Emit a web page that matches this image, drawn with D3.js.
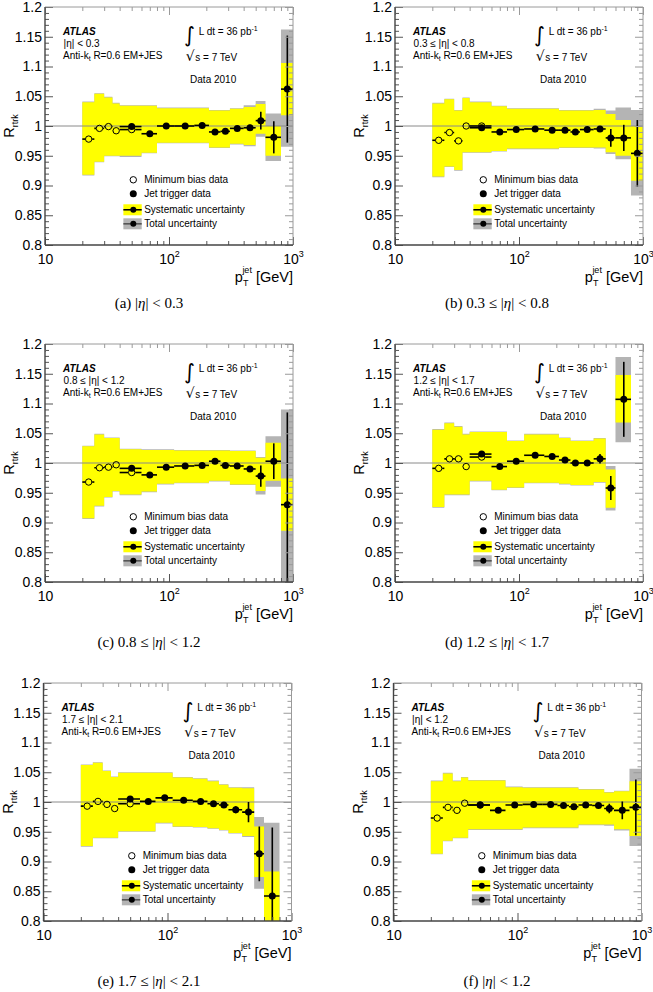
<!DOCTYPE html>
<html><head><meta charset="utf-8">
<script src="https://cdn.jsdelivr.net/npm/d3@7"></script>
<style>body{margin:0;background:#fff;} svg{display:block;}</style>
</head><body>
<svg id="c" width="653" height="992"></svg>
<script>
// ---------- shared data ----------
const binEdges = [20,25,30,35,40,60,80,110,160,210,260,310,400,500,600,800,1000];
const mbPt  = [22.5,27.5,32.5,37.5,50];
const jetPt = [50,70,95,135,185,235,285,355,450,550,700,900];
const yMajor = [0.8,0.85,0.9,0.95,1.0,1.05,1.1,1.15,1.2];
const yMajorLabels = ["0.8","0.85","0.9","0.95","1","1.05","1.1","1.15","1.2"];
const xMajor = [10,100,1000];
const xMajorBase = ["10","10","10"];
const xMajorExp  = ["","2","3"];
const legendLabels = ["Minimum bias data","Jet trigger data","Systematic uncertainty","Total uncertainty"];
const etaLabels = ["|η| < 0.3","0.3 ≤ |η| < 0.8","0.8 ≤ |η| < 1.2","1.2 ≤ |η| < 1.7","1.7 ≤ |η| < 2.1","|η| < 1.2"];
const captionLetters = ["(a)","(b)","(c)","(d)","(e)","(f)"];
const captionRanges = [["","0.3"],["0.3 ≤ ","0.8"],["0.8 ≤ ","1.2"],["1.2 ≤ ","1.7"],["1.7 ≤ ","2.1"],["","1.2"]];

// ---------- panel (a) |eta|<0.3 ----------
const mbA     = [0.978,0.996,0.999,0.992,0.994];
const mbErrA  = [0.003,0.003,0.005,0.005,0.005];
const jetA    = [0.999,0.987,1.000,1.000,1.001,0.990,0.991,0.996,0.997,1.009,0.981,1.062];
const jetErrA = [0.002,0.002,0.002,0.002,0.002,0.002,0.003,0.003,0.005,0.015,0.027,0.090];
const systHiA = [1.040,1.054,1.048,1.038,1.034,1.034,1.030,1.030,1.030,1.026,1.026,1.029,1.032,1.037,1.000,1.106];
const systLoA = [0.918,0.940,0.950,0.950,0.950,0.955,0.972,0.972,0.972,0.964,0.964,0.970,0.968,0.987,0.950,1.018];
const totHiA  = [1.041,1.055,1.049,1.039,1.035,1.035,1.031,1.031,1.031,1.027,1.027,1.030,1.035,1.042,1.021,1.162];
const totLoA  = [0.917,0.939,0.949,0.949,0.948,0.954,0.971,0.971,0.971,0.963,0.963,0.969,0.966,0.982,0.941,0.965];

// ---------- panel (b) 0.3<=|eta|<0.8 ----------
const mbB     = [0.976,0.989,0.975,1.000,1.000];
const mbErrB  = [0.003,0.003,0.003,0.004,0.004];
const jetB    = [0.997,0.990,0.994,0.995,0.993,0.993,0.990,0.994,0.995,0.980,0.980,0.954];
const jetErrB = [0.003,0.002,0.002,0.002,0.002,0.002,0.002,0.002,0.003,0.015,0.022,0.056];
const systHiB = [1.038,1.045,1.026,1.047,1.040,1.033,1.029,1.029,1.029,1.026,1.026,1.026,1.027,1.020,1.010,1.000];
const systLoB = [0.915,0.932,0.926,0.956,0.956,0.958,0.962,0.962,0.962,0.964,0.964,0.964,0.964,0.956,0.950,0.908];
const totHiB  = [1.039,1.046,1.027,1.048,1.041,1.034,1.030,1.030,1.030,1.027,1.027,1.027,1.029,1.026,1.031,1.027];
const totLoB  = [0.914,0.931,0.925,0.955,0.955,0.957,0.961,0.961,0.961,0.963,0.963,0.963,0.962,0.953,0.944,0.883];

// ---------- panel (c) 0.8<=|eta|<1.2 ----------
const mbC     = [0.968,0.992,0.993,0.997,0.984];
const mbErrC  = [0.003,0.003,0.003,0.004,0.005];
const jetC    = [0.991,0.980,0.993,0.995,0.996,1.003,0.996,0.995,0.990,0.978,1.003,0.930];
const jetErrC = [0.003,0.002,0.002,0.002,0.002,0.002,0.002,0.002,0.005,0.018,0.030,0.155];
const systHiC = [1.028,1.048,1.042,1.042,1.023,1.022,1.022,1.021,1.021,1.021,1.021,1.020,1.020,1.009,1.034,0.974];
const systLoC = [0.907,0.928,0.943,0.953,0.947,0.952,0.965,0.967,0.967,0.970,0.970,0.964,0.964,0.953,0.970,0.886];
const totHiC  = [1.029,1.049,1.043,1.043,1.024,1.023,1.023,1.022,1.022,1.022,1.022,1.021,1.021,1.010,1.045,1.090];
const totLoC  = [0.906,0.927,0.942,0.952,0.946,0.951,0.964,0.966,0.966,0.969,0.969,0.963,0.963,0.947,0.960,0.770];

// ---------- panel (d) 1.2<=|eta|<1.7 ----------
const mbD     = [0.991,1.007,1.007,0.994,1.010];
const mbErrD  = [0.003,0.003,0.003,0.005,0.004];
const jetD    = [1.015,0.994,1.003,1.013,1.011,1.005,1.000,1.000,1.007,0.958,1.107,null];
const jetErrD = [0.003,0.002,0.002,0.002,0.002,0.002,0.002,0.002,0.008,0.020,0.063,null];
const systHiD = [1.056,1.067,1.061,1.048,1.052,1.052,1.037,1.048,1.048,1.042,1.037,1.037,1.041,0.989,1.148,null];
const systLoD = [0.926,0.947,0.947,0.947,0.970,0.955,0.959,0.967,0.967,0.965,0.963,0.963,0.968,0.925,1.068,null];
const totHiD  = [1.057,1.068,1.062,1.049,1.053,1.053,1.038,1.049,1.049,1.043,1.038,1.038,1.042,0.995,1.178,null];
const totLoD  = [0.925,0.946,0.946,0.946,0.969,0.954,0.958,0.966,0.966,0.964,0.962,0.962,0.967,0.920,1.035,null];

// ---------- panel (e) 1.7<=|eta|<2.1 ----------
const mbE     = [0.993,1.001,0.996,0.989,0.997];
const mbErrE  = [0.003,0.003,0.004,0.006,0.005];
const jetE    = [1.005,1.001,1.007,1.003,1.001,0.997,0.995,0.987,0.983,0.913,0.842,null];
const jetErrE = [0.003,0.002,0.003,0.002,0.002,0.002,0.003,0.006,0.017,0.046,0.115,null];
const systHiE = [1.062,1.066,1.052,1.042,1.049,1.049,1.049,1.041,1.039,1.035,1.029,1.024,1.023,0.959,0.883,null];
const systLoE = [0.926,0.940,0.940,0.940,0.951,0.951,0.965,0.959,0.958,0.956,0.953,0.948,0.943,0.874,0.700,null];
const totHiE  = [1.063,1.067,1.053,1.043,1.050,1.050,1.050,1.042,1.040,1.036,1.030,1.025,1.025,0.975,0.965,null];
const totLoE  = [0.925,0.939,0.939,0.939,0.950,0.950,0.964,0.958,0.957,0.955,0.952,0.947,0.941,0.854,0.700,null];

// ---------- panel (f) |eta|<1.2 ----------
const mbF     = [0.973,0.991,0.986,0.998,0.995];
const mbErrF  = [0.003,0.003,0.003,0.003,0.003];
const jetF    = [0.995,0.986,0.995,0.996,0.996,0.994,0.992,0.995,0.994,0.989,0.986,0.991];
const jetErrF = [0.002,0.002,0.002,0.002,0.002,0.002,0.002,0.002,0.003,0.008,0.015,0.047];
const systHiF = [1.035,1.048,1.035,1.041,1.036,1.036,1.025,1.024,1.024,1.024,1.024,1.021,1.021,1.016,1.018,1.035];
const systLoF = [0.913,0.935,0.940,0.940,0.954,0.954,0.954,0.957,0.957,0.957,0.957,0.962,0.962,0.962,0.954,0.943];
const totHiF  = [1.036,1.049,1.036,1.042,1.037,1.037,1.026,1.025,1.025,1.025,1.025,1.022,1.022,1.017,1.019,1.056];
const totLoF  = [0.912,0.934,0.939,0.939,0.953,0.953,0.953,0.956,0.956,0.956,0.956,0.961,0.961,0.960,0.952,0.926];

const panels = [
  {mb:mbA,mbErr:mbErrA,jet:jetA,jetErr:jetErrA,sHi:systHiA,sLo:systLoA,tHi:totHiA,tLo:totLoA},
  {mb:mbB,mbErr:mbErrB,jet:jetB,jetErr:jetErrB,sHi:systHiB,sLo:systLoB,tHi:totHiB,tLo:totLoB},
  {mb:mbC,mbErr:mbErrC,jet:jetC,jetErr:jetErrC,sHi:systHiC,sLo:systLoC,tHi:totHiC,tLo:totLoC},
  {mb:mbD,mbErr:mbErrD,jet:jetD,jetErr:jetErrD,sHi:systHiD,sLo:systLoD,tHi:totHiD,tLo:totLoD},
  {mb:mbE,mbErr:mbErrE,jet:jetE,jetErr:jetErrE,sHi:systHiE,sLo:systLoE,tHi:totHiE,tLo:totLoE},
  {mb:mbF,mbErr:mbErrF,jet:jetF,jetErr:jetErrF,sHi:systHiF,sLo:systLoF,tHi:totHiF,tLo:totLoF}
];

// ---------- layout ----------
const W = 248, H = 238;
const layout = [
  {left:45,top:7},{left:395,top:7},
  {left:45,top:344},{left:395,top:344},
  {left:43.5,top:683},{left:393.5,top:683}
];
const captionPos = [{x:149,y:308},{x:497,y:308},{x:149,y:647},{x:497,y:647},{x:149,y:986},{x:497,y:986}];
const SANS = "'Liberation Sans', Arial, Helvetica, sans-serif";
const SERIF = "'Liberation Serif', 'Times New Roman', serif";
const YELLOW = "#ffff00", GREY = "#b4b4b4";

const svg = d3.select('#c');

function minorLog() {
  const out = [];
  [10,100].forEach(d => { for (let k=2;k<=9;k++) out.push(d*k); });
  return out;
}
const yMinor = d3.range(80,121).map(v=>v/100).filter(v => Math.round(v*100)%5 !== 0);

function bandPoints(lo, hi) {
  const pts = [];
  for (let i=0;i<binEdges.length-1;i++) {
    if (lo[i]==null) { pts.push({x:binEdges[i],lo:null,hi:null}); continue; }
    pts.push({x:binEdges[i],lo:lo[i],hi:hi[i]});
    pts.push({x:binEdges[i+1],lo:lo[i],hi:hi[i]});
  }
  return pts;
}

function errorBar(g, x, y, xc, xl, xr, v, e, r) {
  const cx = x(xc), cy = y(v);
  const segs = [];
  if (x(xl) < cx - r) segs.push([x(xl),cy,cx-r,cy]);
  if (x(xr) > cx + r) segs.push([cx+r,cy,x(xr),cy]);
  if (e != null) {
    if (y(v+e) < cy - r) segs.push([cx,y(v+e),cx,cy-r]);
    if (y(v-e) > cy + r) segs.push([cx,cy+r,cx,y(v-e)]);
  }
  segs.forEach(s => g.append('line').attr('x1',s[0]).attr('y1',s[1]).attr('x2',s[2]).attr('y2',s[3])
    .attr('stroke','#000').attr('stroke-width',1.6));
}

panels.forEach((p, idx) => {
  const L = layout[idx];
  const g = svg.append('g').attr('transform',`translate(${L.left},${L.top})`);
  const x = d3.scaleLog().domain([10,1000]).range([0,W]);
  const y = d3.scaleLinear().domain([0.8,1.2]).range([H,0]);
  const clipId = 'clip'+idx;
  svg.append('clipPath').attr('id',clipId).append('rect').attr('width',W).attr('height',H);
  const plot = g.append('g').attr('clip-path',`url(#${clipId})`);

  const area = d3.area().defined(d=>d.lo!=null).x(d=>x(d.x)).y0(d=>y(d.lo)).y1(d=>y(d.hi));
  plot.append('path').attr('d', area(bandPoints(p.tLo,p.tHi))).attr('fill',GREY);
  plot.append('path').attr('d', area(bandPoints(p.sLo,p.sHi))).attr('fill',YELLOW);

  plot.append('line').attr('x1',0).attr('x2',W).attr('y1',y(1)).attr('y2',y(1))
    .attr('stroke','#8a8a8a').attr('stroke-width',1);

  const R = 3.5;
  p.mb.forEach((v,i) => {
    errorBar(plot, x, y, mbPt[i], binEdges[i], binEdges[i+1], v, p.mbErr[i], R);
  });
  p.mb.forEach((v,i) => {
    plot.append('circle').attr('cx',x(mbPt[i])).attr('cy',y(v)).attr('r',R-0.3)
      .attr('fill','none').attr('stroke','#000').attr('stroke-width',1);
  });
  p.jet.forEach((v,i) => {
    if (v==null) return;
    errorBar(plot, x, y, jetPt[i], binEdges[i+4], binEdges[i+5], v, p.jetErr[i], 0);
    plot.append('circle').attr('cx',x(jetPt[i])).attr('cy',y(v)).attr('r',R).attr('fill','#000');
  });

  // ---- axes (ticks inside) ----
  const axCol = '#555', frCol = '#9a9a9a';
  const styleAxis = sel => { sel.select('.domain').remove(); sel.selectAll('line').attr('stroke',axCol); };
  const styleFrame = sel => { sel.select('.domain').remove(); sel.selectAll('line').attr('stroke',frCol); sel.selectAll('text').remove(); };

  const yl = g.append('g').call(d3.axisLeft(y).tickValues(yMajor).tickSize(-8).tickPadding(3)
      .tickFormat((d,i)=>yMajorLabels[i]));
  styleAxis(yl);
  yl.selectAll('text').attr('font-family',SANS).attr('font-size',14).attr('fill','#000');
  const ylm = g.append('g').call(d3.axisLeft(y).tickValues(yMinor).tickSize(-4).tickFormat(''));
  styleAxis(ylm);

  const yr = g.append('g').attr('transform',`translate(${W},0)`).call(d3.axisRight(y).tickValues(yMajor).tickSize(-8));
  styleFrame(yr);
  const yrm = g.append('g').attr('transform',`translate(${W},0)`).call(d3.axisRight(y).tickValues(yMinor).tickSize(-4));
  styleFrame(yrm);

  const xb = g.append('g').attr('transform',`translate(0,${H})`)
    .call(d3.axisBottom(x).tickValues(xMajor).tickSize(-8).tickPadding(0).tickFormat(()=>''));
  styleAxis(xb);
  xb.selectAll('.tick').each(function(d,i){
    const t = d3.select(this).append('text').attr('y',19).attr('text-anchor','middle')
      .attr('font-family',SANS).attr('font-size',14).attr('fill','#000');
    t.append('tspan').text(xMajorBase[i]);
    if (xMajorExp[i]) t.append('tspan').attr('dy',-7).attr('font-size',9).text(xMajorExp[i]);
  });
  const xbm = g.append('g').attr('transform',`translate(0,${H})`)
    .call(d3.axisBottom(x).tickValues(minorLog()).tickSize(-4).tickFormat(''));
  styleAxis(xbm);

  const xt = g.append('g').call(d3.axisTop(x).tickValues(xMajor).tickSize(-8));
  styleFrame(xt);
  const xtm = g.append('g').call(d3.axisTop(x).tickValues(minorLog()).tickSize(-4));
  styleFrame(xtm);

  g.append('line').attr('x1',W).attr('x2',W).attr('y1',0).attr('y2',H).attr('stroke',frCol).attr('stroke-width',1);
  g.append('line').attr('x1',0).attr('x2',W).attr('y1',0).attr('y2',0).attr('stroke',frCol).attr('stroke-width',1);
  g.append('line').attr('x1',0).attr('x2',0).attr('y1',0).attr('y2',H).attr('stroke','#444').attr('stroke-width',1.4);
  g.append('line').attr('x1',0).attr('x2',W).attr('y1',H).attr('y2',H).attr('stroke','#444').attr('stroke-width',1.4);

  // axis titles
  const xl = g.append('text').attr('x',W).attr('y',H+37).attr('text-anchor','end')
    .attr('font-family',SANS).attr('font-size',14.5).attr('fill','#000');
  xl.append('tspan').text('p');
  xl.append('tspan').attr('dy',4).attr('font-size',9).text('T');
  xl.append('tspan').attr('dx',-6).attr('dy',-13).attr('font-size',9).text('jet');
  xl.append('tspan').attr('dy',9).text(' [GeV]');

  const ylab = g.append('text').attr('transform',`translate(-31,${H/2}) rotate(-90)`).attr('text-anchor','middle')
    .attr('font-family',SANS).attr('font-size',14.5).attr('fill','#000');
  ylab.append('tspan').text('R');
  ylab.append('tspan').attr('dy',4).attr('font-size',9).text('rtrk');

  // annotations
  const ann = (fx,fy) => g.append('text').attr('x',W*fx).attr('y',H*fy).attr('font-family',SANS).attr('font-size',10).attr('fill','#000');
  ann(0.073,0.118).attr('font-weight','bold').attr('font-style','italic').text('ATLAS');
  ann(0.075,0.169).text(etaLabels[idx]);
  const ak = ann(0.073,0.218);
  ak.append('tspan').text('Anti-k');
  ak.append('tspan').attr('dy',2.5).attr('font-size',7).text('t');
  ak.append('tspan').attr('dy',-2.5).text(' R=0.6 EM+JES');
  ann(0.606,0.148).attr('text-anchor','end').attr('font-family',"'DejaVu Sans', sans-serif").attr('font-size',21).text('∫');
  const lum = ann(0.620,0.118);
  lum.append('tspan').text('L dt = 36 pb');
  lum.append('tspan').attr('dy',-4).attr('font-size',7).text('-1');
  ann(0.604,0.228).attr('text-anchor','end').attr('font-family',"'DejaVu Sans', sans-serif").attr('font-size',14).text('√');
  ann(0.606,0.225).text('s = 7 TeV');
  ann(0.585,0.318).text('Data 2010');

  // legend
  const rowsY = [0.726,0.785,0.852,0.911].map(f=>H*f);
  const mx = W*0.356, tx = W*0.40, bx0 = W*0.316, bx1 = W*0.39;
  const lg = g.append('g');
  lg.append('circle').attr('cx',mx).attr('cy',rowsY[0]).attr('r',R-0.3).attr('fill','none').attr('stroke','#000');
  lg.append('circle').attr('cx',mx).attr('cy',rowsY[1]).attr('r',R).attr('fill','#000');
  [[YELLOW,'#000'],[GREY,'#555']].forEach((c,k) => {
    const yy = rowsY[2+k];
    lg.append('rect').attr('x',bx0).attr('y',yy-5.5).attr('width',bx1-bx0).attr('height',11).attr('fill',c[0]);
    lg.append('line').attr('x1',bx0).attr('x2',bx1).attr('y1',yy).attr('y2',yy).attr('stroke',c[1]).attr('stroke-width',1.6);
    lg.append('circle').attr('cx',mx).attr('cy',yy).attr('r',3).attr('fill','#000');
  });
  legendLabels.forEach((t,k) => {
    lg.append('text').attr('x',tx).attr('y',rowsY[k]+3.6).attr('font-family',SANS).attr('font-size',10).attr('fill','#000').text(t);
  });

  // caption
  const cp = captionPos[idx];
  const cap = svg.append('text').attr('x',cp.x).attr('y',cp.y).attr('text-anchor','middle')
    .attr('font-family',SERIF).attr('font-size',15).attr('fill','#000');
  cap.append('tspan').text(captionLetters[idx] + ' ' + captionRanges[idx][0] + '|');
  cap.append('tspan').attr('font-style','italic').text('η');
  cap.append('tspan').text('| < ' + captionRanges[idx][1]);
});
</script>
</body></html>
